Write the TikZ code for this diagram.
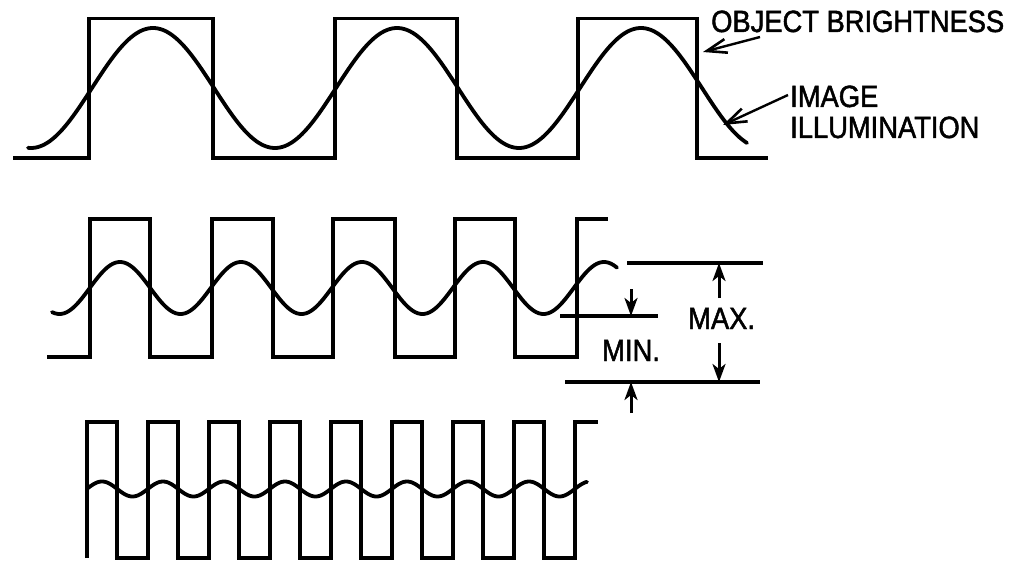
\documentclass[tikz,border=0pt]{standalone}
\usepackage{fontspec}
\newfontfamily\lbl[FakeStretch=0.89,FakeBold=1.6]{Liberation Sans}
\usetikzlibrary{arrows.meta}
\begin{document}
\begin{tikzpicture}[x=1pt,y=-1pt,
  wave/.style={line width=3.7pt, line join=miter},
  curve/.style={line width=3.8pt, line cap=round},
  dimline/.style={line width=3.3pt},
  dimarrow/.style={line width=3pt, -{Stealth[length=18pt,width=13pt,inset=5pt]}},
  lblarrow/.style={line width=2.4pt, -{Straight Barb[length=20pt,width=14pt,line width=2.6pt]}},
  label/.style={font={\lbl\fontsize{30.7}{32}\selectfont}, inner sep=0pt, anchor=base west}]
\useasboundingbox (0,0) rectangle (1012,564);

% ---- top row ----
\draw[wave] (13,158) -- (89,158) -- (89,18.5) -- (213,18.5) -- (213,158) -- (335,158)
  -- (335,18.5) -- (457,18.5) -- (457,158) -- (578,158) -- (578,18.5) -- (697,18.5)
  -- (697,158) -- (768,158);
\draw[curve] plot[domain=28:747, samples=300, smooth] (\x, {88-60*cos((\x-153)/244*360)});

% ---- middle row ----
\draw[wave] (47,357) -- (90,357) -- (90,219) -- (150,219) -- (150,357) -- (212,357)
  -- (212,219) -- (273,219) -- (273,357) -- (333,357) -- (333,219) -- (395,219)
  -- (395,357) -- (455,357) -- (455,219) -- (515,219) -- (515,357) -- (577,357)
  -- (577,219) -- (608,219);
\draw[curve] plot[domain=52:617, samples=300, smooth] (\x, {288-26*cos((\x-120)/121*360)});

% ---- bottom row ----
\draw[wave] (87,558) \foreach \k in {0,...,7} { -- ({87+61*\k},422) -- ({117+61*\k},422)
  -- ({117+61*\k},558) -- ({148+61*\k},558) } -- (575,422) -- (598,422);
\draw[curve] plot[domain=87:587, samples=300, smooth] (\x, {489-7.5*cos((\x-102)/61*360)});

% ---- labels ----
\node[label] (ob) at (711,32) {OBJECT BRIGHTNESS};
\node[label] (im) at (790,107) {IMAGE};
\node[label] (il) at (790,138) {ILLUMINATION};
\coordinate (obs) at (760,37);
\coordinate (obt) at (703,52);
\coordinate (ims) at (788,95);
\coordinate (imt) at (723,125);
\draw[lblarrow] (obs) -- (obt);
\draw[lblarrow] (ims) -- (imt);

% ---- dimension ----
\coordinate (maxl) at (627,263); \coordinate (maxr) at (763,263);
\coordinate (minl) at (560,316); \coordinate (minr) at (658,316);
\coordinate (botl) at (565,382); \coordinate (botr) at (760,382);
\draw[dimline] (maxl) -- (maxr);
\draw[dimline] (minl) -- (minr);
\draw[dimline] (botl) -- (botr);
\node[label] (max) at (688,329) {MAX.};
\node[label] (min) at (602,361) {MIN.};
\coordinate (maxa) at (719,298); \coordinate (maxat) at (719,263);
\coordinate (maxb) at (719,343); \coordinate (maxbt) at (719,382);
\coordinate (mina) at (631,289); \coordinate (minat) at (631,316);
\coordinate (minb) at (631,413); \coordinate (minbt) at (631,382);
\draw[dimarrow] (maxa) -- (maxat);
\draw[dimarrow] (maxb) -- (maxbt);
\draw[dimarrow] (mina) -- (minat);
\draw[dimarrow] (minb) -- (minbt);
\end{tikzpicture}
\end{document}
